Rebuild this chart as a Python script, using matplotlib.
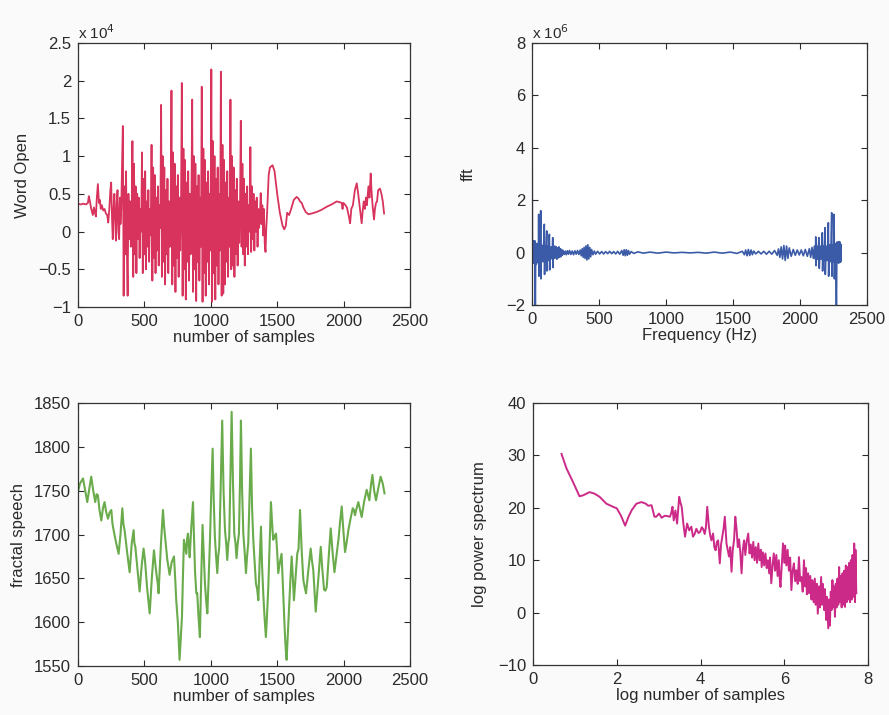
import numpy as np
import matplotlib.pyplot as plt
from matplotlib.ticker import FuncFormatter

plt.rcParams['font.family'] = ['Liberation Sans', 'DejaVu Sans']

# ---- word "Open" waveform (x 10^4) ----
word_pre = [(0, 0.37), (20, 0.36), (40, 0.37), (60, 0.36), (75, 0.38), (82, 0.47), (90, 0.40),
            (100, 0.30), (112, 0.22), (120, 0.32), (128, 0.25), (135, 0.20), (142, 0.45),
            (150, 0.63), (158, 0.38), (165, 0.42), (172, 0.30), (180, 0.35), (190, 0.28),
            (200, 0.30), (210, 0.24), (220, 0.22), (228, 0.12), (236, 0.30), (244, 0.55),
            (250, 0.65), (256, 0.20), (262, -0.10), (268, 0.30), (274, 0.50), (280, 0.15),
            (286, -0.12), (292, 0.40), (298, 0.55), (304, 0.00), (310, -0.10), (316, 0.45),
            (320, 0.10)]

# voiced part, one value every 6 samples from sample 326
voiced_start = 326
voiced_step = 6
word_voiced = [0.30, 0.90,
    1.40, -0.85, 0.60, -0.30, 0.80, -0.20, -0.85, 0.50, -0.10, 0.40, -0.20, 0.20,
    1.20, -0.60, 0.90, -0.30, 0.60, -0.55, 0.50, -0.10, 0.45, -0.35, 0.30, 0.00,
    1.05, -0.55, 0.70, -0.30, 0.80, -0.50, 0.40, -0.20, 0.55, -0.40, 0.30, -0.05,
    1.15, -0.65, 0.85, -0.35, 0.75, -0.55, 0.45, -0.25, 0.60, -0.45, 0.35, 0.05,
    1.68, -0.60, 1.00, -0.40, 0.85, -0.70, 0.55, -0.30, 0.70, -0.55, 0.40, -0.20, 0.30,
    1.87, -0.70, 1.05, -0.45, 0.90, -0.80, 0.60, -0.35, 0.75, -0.60, 0.45, -0.25, 0.35,
    1.97, -0.85, 1.10, -0.50, 0.95, -0.90, 0.65, -0.40, 0.80, -0.65, 0.50, -0.30, 0.40,
    1.75, -0.80, 1.00, -0.50, 0.90, -0.92, 0.60, -0.40, 0.75, -0.65, 0.45, -0.20,
    1.92, -0.93, 1.10, -0.55, 0.95, -0.85, 0.65, -0.40, 0.80, -0.70, 0.50, -0.25,
    2.15, -0.93, 1.20, -0.55, 1.00, -0.90, 0.70, -0.45, 0.85, -0.70, 0.50, -0.25,
    2.12, -0.85, 1.15, -0.82, 0.95, -0.70, 0.65, -0.40, 0.80, -0.60, 0.45, -0.20,
    1.75, -0.50, 1.00, -0.45, 0.85, -0.60, 0.55, -0.30, 0.70, -0.45, 0.40, -0.15, 0.30,
    1.47, -0.20, 0.90, -0.30, 0.70, -0.45, 0.50, -0.20, 0.60, -0.30, 0.35, 0.00,
    1.12, -0.27, 0.60, -0.10, 0.50, -0.25, 0.40, 0.00, 0.45, -0.20, 0.30, 0.05, 0.20,
    0.51, 0.10, 0.35, -0.05, 0.30, -0.15, -0.27, 0.05, 0.25, 0.50, 0.75]

word_post = [(1445, 0.85), (1465, 0.88), (1480, 0.80), (1500, 0.50), (1520, 0.25), (1540, 0.08),
             (1553, 0.03), (1565, 0.08), (1575, 0.25), (1590, 0.22), (1605, 0.30), (1625, 0.42),
             (1646, 0.46), (1660, 0.44), (1672, 0.40), (1685, 0.38), (1697, 0.32), (1715, 0.26),
             (1735, 0.23), (1760, 0.24), (1797, 0.26), (1835, 0.29), (1873, 0.33), (1910, 0.36),
             (1948, 0.40), (1970, 0.39), (1986, 0.38), (1992, 0.30), (1998, 0.38), (2010, 0.36),
             (2025, 0.32), (2040, 0.20), (2049, 0.11), (2058, 0.30), (2070, 0.35), (2085, 0.55),
             (2099, 0.64), (2110, 0.50), (2120, 0.35), (2130, 0.20), (2136, 0.11), (2145, 0.30),
             (2152, 0.40), (2160, 0.30), (2168, 0.45), (2175, 0.35), (2187, 0.60), (2195, 0.45),
             (2204, 0.77), (2210, 0.55), (2218, 0.35), (2229, 0.16), (2236, 0.30), (2244, 0.38),
             (2252, 0.40), (2260, 0.55), (2274, 0.57), (2285, 0.50), (2295, 0.40), (2305, 0.24)]

# ---- fft (x 10^6) ----
fft_pts = [(0, 7.75), (3, 0.35), (6, -0.30), (9, 0.45), (12, -0.40), (15, 0.40), (18, -0.10),
    (21, 0.45), (25, -2.3), (28, 0.30), (32, -0.45), (36, 0.35), (40, -0.30), (44, 0.30),
    (48, -0.40), (50, 1.46), (52, -0.90), (56, 0.30), (60, -0.40), (63, 0.25), (65, 1.60),
    (67, -1.00), (71, 0.30), (75, -0.30), (79, 0.25), (83, -0.35), (87, 0.30), (92, 1.08),
    (94, -0.83), (98, 0.25), (102, -0.30), (106, 0.25), (110, 0.83), (112, -0.70), (116, 0.25),
    (120, -0.30), (125, 0.20), (130, 0.70), (132, -0.66), (136, 0.20), (140, -0.25), (145, 0.22),
    (150, -0.20), (155, 0.57), (157, -0.57), (161, 0.20), (166, -0.22), (171, 0.25), (176, -0.20),
    (181, 0.22), (186, -0.25), (191, 0.18), (196, -0.20), (201, 0.22), (206, -0.18), (211, 0.15),
    (216, -0.15), (221, 0.12), (226, -0.10), (232, 0.08), (240, -0.07), (248, 0.06), (256, -0.08),
    (264, 0.07), (272, -0.06), (280, 0.08), (290, -0.07), (300, 0.06), (310, -0.08), (320, 0.07),
    (330, -0.06), (340, 0.08), (350, -0.07), (360, 0.10), (368, -0.12), (375, 0.15), (382, -0.18),
    (389, 0.20), (396, -0.22), (403, 0.26), (410, -0.28), (417, 0.30), (424, -0.24), (431, 0.20),
    (438, -0.16), (445, 0.12), (455, -0.08), (465, 0.06), (475, -0.06), (490, 0.05), (505, -0.05),
    (520, 0.04), (535, -0.05), (550, 0.04), (565, -0.04), (580, 0.05), (595, -0.04), (610, 0.04),
    (625, -0.05), (640, 0.05), (655, -0.06), (670, 0.08), (680, -0.10), (688, 0.11), (696, -0.12),
    (704, 0.11), (712, -0.10), (720, 0.08), (728, -0.06), (740, 0.04), (760, -0.03), (790, 0.03),
    (830, -0.02), (880, 0.02), (940, -0.02), (1000, 0.02), (1060, -0.01), (1120, 0.01),
    (1180, -0.01), (1240, 0.01), (1300, -0.02), (1360, 0.02), (1420, -0.02), (1480, 0.02),
    (1530, -0.03), (1570, 0.05), (1585, -0.08), (1595, 0.10), (1605, -0.12), (1615, 0.12),
    (1625, -0.11), (1635, 0.10), (1645, -0.08), (1655, 0.06), (1670, -0.05), (1690, 0.05),
    (1710, -0.05), (1730, 0.05), (1750, -0.06), (1770, 0.05), (1790, -0.06), (1810, 0.08),
    (1830, -0.10), (1840, 0.14), (1850, -0.18), (1860, 0.22), (1870, -0.24), (1880, 0.27),
    (1890, -0.30), (1900, 0.25), (1910, -0.22), (1920, 0.18), (1935, -0.14), (1950, 0.12),
    (1965, -0.10), (1980, 0.10), (1995, -0.09), (2010, 0.10), (2025, -0.12), (2040, 0.12),
    (2055, -0.14), (2070, 0.15), (2080, -0.18), (2090, 0.20), (2100, -0.22), (2108, 0.25),
    (2116, -0.25), (2118, 0.60), (2120, -0.50), (2126, 0.25), (2132, -0.25), (2138, 0.22),
    (2142, 0.57), (2144, -0.60), (2150, 0.25), (2156, -0.25), (2162, 0.25), (2167, 0.76),
    (2169, -0.70), (2175, 0.25), (2181, -0.30), (2187, 0.95), (2189, -0.83), (2195, 0.25),
    (2201, -0.30), (2207, 0.25), (2212, 1.14), (2214, -0.90), (2220, 0.30), (2226, -0.35),
    (2232, 0.30), (2237, 1.52), (2239, -0.90), (2245, 0.30), (2251, -0.35), (2255, 1.46),
    (2257, -1.00), (2263, 0.35), (2268, -0.40), (2272, -2.3), (2276, 0.40), (2280, -0.35),
    (2284, 0.40), (2288, -0.40), (2292, 0.42), (2296, -0.38), (2300, 0.40), (2304, -0.35),
    (2308, 0.30)]

# ---- fractal speech ----
fractal_pts = [(0, 1749), (15, 1758), (38, 1764), (55, 1750), (70, 1737), (85, 1752), (100, 1766),
    (115, 1750), (130, 1737), (140, 1746), (150, 1745), (162, 1728), (176, 1716), (188, 1730),
    (200, 1737), (212, 1726), (226, 1718), (238, 1725), (251, 1728), (260, 1712), (271, 1703),
    (288, 1690), (306, 1678), (320, 1700), (334, 1730), (342, 1712), (351, 1705), (370, 1680),
    (389, 1657), (405, 1690), (419, 1705), (425, 1690), (432, 1686), (448, 1660), (464, 1635),
    (480, 1665), (494, 1684), (505, 1670), (520, 1640), (540, 1610), (556, 1650), (572, 1682),
    (580, 1670), (590, 1656), (600, 1645), (607, 1633), (625, 1690), (640, 1728), (648, 1710),
    (658, 1694), (672, 1672), (690, 1654), (705, 1668), (723, 1675), (732, 1650), (740, 1625),
    (752, 1600), (765, 1557), (775, 1585), (783, 1606), (790, 1650), (798, 1694), (808, 1685),
    (816, 1678), (822, 1695), (828, 1701), (835, 1688), (841, 1674), (852, 1705), (866, 1737),
    (875, 1690), (881, 1659), (891, 1633), (898, 1633), (908, 1605), (918, 1583), (928, 1650),
    (938, 1711), (946, 1680), (956, 1644), (965, 1625), (974, 1610), (984, 1650), (994, 1694),
    (1004, 1750), (1014, 1798), (1022, 1740), (1031, 1697), (1040, 1675), (1049, 1656),
    (1056, 1675), (1064, 1686), (1075, 1760), (1086, 1830), (1096, 1750), (1107, 1705),
    (1116, 1690), (1124, 1671), (1132, 1690), (1139, 1697), (1148, 1770), (1157, 1840),
    (1167, 1760), (1177, 1701), (1186, 1690), (1194, 1673), (1203, 1690), (1212, 1701),
    (1220, 1760), (1227, 1830), (1236, 1750), (1245, 1701), (1255, 1680), (1265, 1656),
    (1273, 1675), (1282, 1690), (1292, 1745), (1302, 1798), (1311, 1730), (1320, 1694),
    (1330, 1668), (1340, 1644), (1349, 1638), (1358, 1625), (1368, 1670), (1378, 1709),
    (1386, 1665), (1395, 1633), (1405, 1605), (1415, 1583), (1424, 1610), (1433, 1640),
    (1443, 1690), (1453, 1737), (1462, 1712), (1470, 1694), (1480, 1698), (1491, 1701),
    (1500, 1680), (1508, 1656), (1520, 1668), (1533, 1678), (1546, 1630), (1558, 1587),
    (1564, 1570), (1571, 1557), (1581, 1590), (1591, 1625), (1600, 1650), (1609, 1675),
    (1618, 1650), (1626, 1625), (1638, 1650), (1651, 1678), (1661, 1684), (1672, 1728),
    (1685, 1680), (1697, 1648), (1707, 1640), (1717, 1633), (1735, 1660), (1752, 1684),
    (1762, 1670), (1772, 1659), (1781, 1635), (1790, 1612), (1810, 1650), (1828, 1686),
    (1840, 1660), (1853, 1637), (1863, 1636), (1873, 1640), (1888, 1675), (1903, 1707),
    (1917, 1680), (1931, 1657), (1946, 1675), (1961, 1694), (1974, 1715), (1986, 1732),
    (1998, 1705), (2011, 1680), (2024, 1692), (2036, 1705), (2052, 1718), (2069, 1730),
    (2078, 1728), (2086, 1722), (2098, 1730), (2111, 1737), (2124, 1728), (2136, 1720),
    (2155, 1738), (2174, 1751), (2184, 1745), (2194, 1739), (2205, 1755), (2217, 1768),
    (2230, 1750), (2244, 1739), (2260, 1752), (2279, 1766), (2295, 1758), (2308, 1747)]

# ---- log power spectrum ----
spec_pts = [(0.68, 30.3), (0.80, 27.5), (0.95, 25.0), (1.11, 22.2), (1.20, 22.4), (1.35, 23.0),
    (1.47, 22.7), (1.59, 22.1), (1.75, 20.8), (1.91, 20.2), (2.00, 19.9), (2.10, 18.5),
    (2.20, 16.6), (2.28, 18.3), (2.36, 19.6), (2.47, 20.8), (2.59, 21.1), (2.69, 20.8),
    (2.75, 20.4), (2.83, 20.5), (2.90, 18.3), (2.94, 18.3), (3.01, 18.9), (3.07, 18.1),
    (3.15, 18.5), (3.22, 18.4), (3.27, 18.3), (3.30, 19.0), (3.33, 20.2), (3.36, 17.6),
    (3.40, 19.5), (3.44, 17.0), (3.49, 22.1), (3.52, 21.0), (3.55, 20.2), (3.59, 17.0),
    (3.63, 14.5), (3.68, 17.0), (3.73, 15.7), (3.78, 16.4), (3.82, 14.5), (3.86, 15.0),
    (3.90, 16.0), (3.95, 15.2), (3.99, 15.4), (4.03, 16.3), (4.06, 16.0), (4.10, 15.0),
    (4.13, 16.4), (4.16, 20.2), (4.20, 16.4), (4.23, 14.8), (4.26, 13.8), (4.30, 15.1),
    (4.33, 12.5), (4.36, 11.9), (4.39, 13.5), (4.42, 13.8), (4.46, 9.4), (4.49, 13.0),
    (4.52, 14.5), (4.55, 16.0), (4.58, 18.3), (4.62, 13.2), (4.65, 12.0), (4.68, 10.7),
    (4.71, 12.5), (4.74, 7.8), (4.77, 12.0), (4.80, 13.8), (4.83, 18.3), (4.86, 16.0),
    (4.89, 12.5), (4.92, 14.0), (4.95, 11.5), (4.98, 7.5), (5.01, 12.0), (5.04, 13.8),
    (5.07, 11.0), (5.10, 13.5), (5.14, 15.1), (5.17, 11.3), (5.20, 13.0), (5.23, 10.5),
    (5.26, 13.5), (5.29, 10.0), (5.32, 12.5), (5.35, 9.5), (5.38, 13.2), (5.41, 10.0),
    (5.44, 12.0), (5.46, 8.7), (5.49, 11.5), (5.52, 9.0), (5.55, 11.3), (5.58, 8.5),
    (5.61, 10.0), (5.64, 7.5), (5.66, 10.5), (5.69, 5.6), (5.72, 9.0), (5.75, 11.3),
    (5.78, 8.0), (5.81, 11.0), (5.84, 7.0), (5.87, 10.0), (5.89, 6.5), (5.91, 4.9),
    (5.94, 9.0), (5.97, 13.2), (6.00, 9.5), (6.02, 12.8), (6.05, 9.0), (6.08, 12.0),
    (6.11, 8.0), (6.14, 10.5), (6.17, 4.3), (6.20, 8.0), (6.23, 9.4), (6.26, 6.0),
    (6.29, 8.1), (6.32, 5.5), (6.35, 10.6), (6.38, 6.0), (6.41, 6.8), (6.44, 4.0),
    (6.47, 10.0), (6.50, 5.0), (6.52, 8.5), (6.54, 3.5), (6.57, 7.5), (6.59, 3.7),
    (6.62, 7.0), (6.65, 2.5), (6.67, 6.2), (6.70, 2.0), (6.73, 6.5), (6.75, 1.5),
    (6.78, 5.5), (6.80, -0.2), (6.83, 5.0), (6.85, 1.0), (6.88, 6.8), (6.90, 1.5),
    (6.92, 5.5), (6.95, 0.5), (6.97, 4.5), (7.00, -1.4), (7.02, 3.0), (7.05, -3.0),
    (7.07, 2.5), (7.09, -2.5), (7.11, 4.0), (7.13, 0.5), (7.15, 6.2), (7.17, 1.0),
    (7.19, 5.0), (7.21, -0.8), (7.23, 5.5), (7.25, 1.0), (7.27, 6.5), (7.29, 1.5),
    (7.31, 8.7), (7.33, 2.0), (7.35, 7.0), (7.37, 1.0), (7.39, 7.5), (7.41, 1.5),
    (7.43, 8.0), (7.45, 1.1), (7.47, 9.0), (7.49, 2.0), (7.51, 8.7), (7.53, 2.5),
    (7.55, 9.5), (7.57, 2.0), (7.59, 10.0), (7.61, 2.5), (7.63, 11.0), (7.65, 3.0),
    (7.67, 13.2), (7.69, 2.0), (7.70, 12.0), (7.72, 3.7)]


def fmt(v, pos):
    return ('%g' % v).replace('-', '\u2212')


def style(ax, xlim, ylim, xticks, yticks):
    ax.set_xlim(xlim)
    ax.set_ylim(ylim)
    ax.set_xticks(xticks)
    ax.set_yticks(yticks)
    ax.xaxis.set_major_formatter(FuncFormatter(fmt))
    ax.yaxis.set_major_formatter(FuncFormatter(fmt))
    ax.tick_params(direction='in', length=4, width=0.8, top=True, right=True,
                   labelsize=12, colors='#2a2a2a', pad=5)
    for s in ax.spines.values():
        s.set_color('#333333')
        s.set_linewidth(0.9)
    ax.set_facecolor('white')


fig = plt.figure(figsize=(8.89, 7.15), dpi=100, facecolor='#fafafa')

# word open
ax1 = fig.add_axes([0.0877, 0.5706, 0.3735, 0.3692])
wx = [p[0] for p in word_pre] + list(voiced_start + voiced_step * np.arange(len(word_voiced))) \
    + [p[0] for p in word_post]
wy = [p[1] for p in word_pre] + word_voiced + [p[1] for p in word_post]
ax1.plot(wx, wy, color='#d8335c', lw=1.3)
style(ax1, (0, 2500), (-1, 2.5), range(0, 2501, 500), np.arange(-1, 2.51, 0.5))
ax1.set_xlabel('number of samples', fontsize=12, labelpad=1, color='#2a2a2a')
ax1.set_ylabel('Word Open', fontsize=12, labelpad=6, color='#2a2a2a')
ax1.text(0.0, 1.015, r'x 10$^{4}$', transform=ax1.transAxes, fontsize=11, color='#2a2a2a')

# fft
ax2 = fig.add_axes([0.5984, 0.5734, 0.3768, 0.3664])
ax2.plot([p[0] for p in fft_pts], [p[1] for p in fft_pts], color='#3b5ba8', lw=1.2)
style(ax2, (0, 2500), (-2, 8), range(0, 2501, 500), range(-2, 9, 2))
ax2.set_xlabel('Frequency (Hz)', fontsize=12, labelpad=1, color='#2a2a2a')
ax2.set_ylabel('fft', fontsize=12, labelpad=22, color='#2a2a2a')
ax2.text(0.0, 1.015, r'x 10$^{6}$', transform=ax2.transAxes, fontsize=11, color='#2a2a2a')

# fractal speech
ax3 = fig.add_axes([0.0877, 0.0685, 0.3735, 0.3678])
ax3.plot([p[0] for p in fractal_pts], [p[1] for p in fractal_pts], color='#6aab4c', lw=1.5)
style(ax3, (0, 2500), (1550, 1850), range(0, 2501, 500), range(1550, 1851, 50))
ax3.set_xlabel('number of samples', fontsize=12, labelpad=1, color='#2a2a2a')
ax3.set_ylabel('fractal speech', fontsize=12, labelpad=6, color='#2a2a2a')

# log power spectrum
ax4 = fig.add_axes([0.5996, 0.0699, 0.3768, 0.3664])
ax4.plot([p[0] for p in spec_pts], [p[1] for p in spec_pts], color='#cc2a88', lw=1.4)
style(ax4, (0, 8), (-10, 40), range(0, 9, 2), range(-10, 41, 10))
ax4.set_xlabel('log number of samples', fontsize=12, labelpad=1, color='#2a2a2a')
ax4.set_ylabel('log power spectrum', fontsize=12, labelpad=8, color='#2a2a2a')

fig.savefig('out.png', dpi=100, facecolor=fig.get_facecolor())
